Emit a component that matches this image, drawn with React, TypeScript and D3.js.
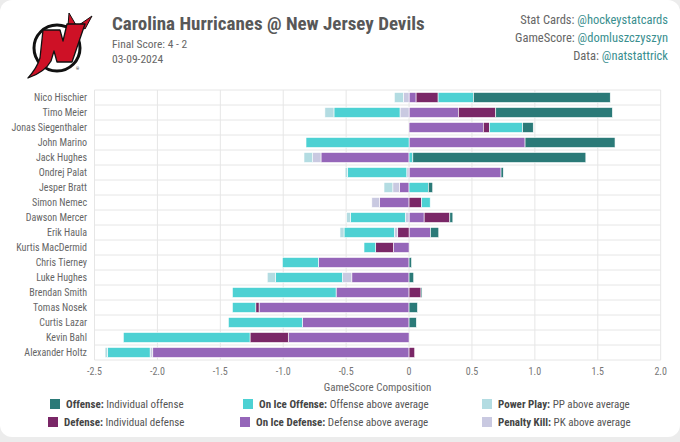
import React from 'react';
import * as d3 from 'd3';

const players = [
  "Nico Hischier", "Timo Meier", "Jonas Siegenthaler", "John Marino", "Jack Hughes",
  "Ondrej Palat", "Jesper Bratt", "Simon Nemec", "Dawson Mercer", "Erik Haula",
  "Kurtis MacDermid", "Chris Tierney", "Luke Hughes", "Brendan Smith", "Tomas Nosek",
  "Curtis Lazar", "Kevin Bahl", "Alexander Holtz",
];
const onIceDefense = [0.056, 0.392, 0.59, 0.922, -0.70, 0.731, -0.077, -0.236, 0.12, 0.17, -0.125, -0.721, -0.455, -0.58, -1.192, -0.848, -0.96, -2.037];
const defense = [0.175, 0.297, 0.048, 0, 0, 0, 0, 0.10, 0.204, -0.09, -0.14, 0, 0, 0.095, -0.026, 0, -0.304, 0.045];
const penaltyKill = [-0.045, -0.072, 0, 0, -0.066, -0.018, -0.052, -0.06, -0.03, -0.027, 0, 0, -0.075, 0, 0, 0, 0, -0.021];
const onIceOffense = [0.281, -0.525, 0.265, -0.819, 0.03, -0.472, 0.153, 0.068, -0.437, -0.40, -0.093, -0.286, -0.53, -0.824, -0.186, -0.588, -1.007, -0.34];
const powerPlay = [-0.072, -0.072, 0, 0, -0.069, -0.018, -0.07, 0, -0.03, -0.032, 0, 0, -0.067, 0, 0, 0, 0, -0.018];
const offense = [1.087, 0.927, 0.084, 0.715, 1.375, 0.018, 0.035, 0, 0.024, 0.066, 0, 0.02, 0.037, 0.008, 0.067, 0.058, 0, 0];

const xTicks = [-2.5, -2.0, -1.5, -1.0, -0.5, 0, 0.5, 1.0, 1.5, 2.0];

const seriesKeys = ["onIceDef", "def", "pk", "onIceOff", "pp", "off"];
const seriesColors: Record<string, string> = {
  off: "#2b7a78",
  onIceOff: "#4dd1d3",
  pp: "#b3dce2",
  def: "#7a2767",
  onIceDef: "#9566b9",
  pk: "#c9c9e1",
};

const legendItems = [
  { key: "off", label: "Offense:", desc: "Individual offense", x: 50, y: 404 },
  { key: "onIceOff", label: "On Ice Offense:", desc: "Offense above average", x: 243, y: 404 },
  { key: "pp", label: "Power Play:", desc: "PP above average", x: 482, y: 404 },
  { key: "def", label: "Defense:", desc: "Individual defense", x: 48, y: 422 },
  { key: "onIceDef", label: "On Ice Defense:", desc: "Defense above average", x: 240, y: 422 },
  { key: "pk", label: "Penalty Kill:", desc: "PK above average", x: 482, y: 422 },
];

const FONT = "'Liberation Sans Narrow', 'Roboto Condensed', 'Arial Narrow', Roboto, sans-serif";

export default function App() {
  const W = 680, H = 442;
  const left = 94.5, right = 660.7, top = 90, bottom = 360;

  const rows = players.map((p, i) => ({
    player: p,
    onIceDef: onIceDefense[i],
    def: defense[i],
    pk: penaltyKill[i],
    onIceOff: onIceOffense[i],
    pp: powerPlay[i],
    off: offense[i],
  }));

  const x = d3.scaleLinear().domain([-2.5, 2.0]).range([left, right]);
  const y = d3.scaleBand().domain(players).range([top, bottom]).paddingInner(0.33).paddingOuter(0.165);
  const band = d3.scaleBand().domain(players).range([top, bottom]);

  const stacked = d3.stack<any>().keys(seriesKeys).offset(d3.stackOffsetDiverging)(rows);

  const fmt = (d: number) => (d === 0 ? "0" : d.toFixed(1));

  return (
    <svg width={W} height={H} style={{ position: 'absolute', left: 0, top: 0 }} fontFamily={FONT}>
      <rect x={0} y={0} width={W} height={H} fill="#ececec" />
      <rect x={0} y={0} width={W} height={437} rx={12} fill="#ffffff" />

      {/* Logo */}
      <g>
        <circle cx={57} cy={48} r={23} fill="#ffffff" stroke="#111" strokeWidth={3} />
        <path d="M 68 26 L 69 13 L 76 25 Z" fill="#ce1126" stroke="#111" strokeWidth={1} strokeLinejoin="round" />
        <path d="M 79 25 L 92 16 L 85 29 Z" fill="#ce1126" stroke="#111" strokeWidth={1} strokeLinejoin="round" />
        <path d="M 43 30 L 60 30 L 63 41 L 67 24 L 85 24 L 72 62 L 57 62 L 54 51 L 51 61 Q 45 72 28 78 Q 37 68 40 58 Z"
          fill="#ce1126" stroke="#111" strokeWidth={1.3} strokeLinejoin="round" />
        <text x={76} y={70} fontSize={4} fill="#111">®</text>
      </g>

      {/* Header */}
      <text x={112} y={30} fontSize={19} fontWeight="bold" fill="#585858">Carolina Hurricanes @ New Jersey Devils</text>
      <text x={112} y={48} fontSize={11.5} fill="#666">Final Score: 4 - 2</text>
      <text x={112} y={63} fontSize={11.5} fill="#666">03-09-2024</text>

      <text x={668} y={24} fontSize={12.5} textAnchor="end" fill="#666">Stat Cards: <tspan fill="#3a8f8f">@hockeystatcards</tspan></text>
      <text x={668} y={42} fontSize={12.5} textAnchor="end" fill="#666">GameScore: <tspan fill="#3a8f8f">@domluszczyszyn</tspan></text>
      <text x={668} y={60} fontSize={12.5} textAnchor="end" fill="#666">Data: <tspan fill="#3a8f8f">@natstattrick</tspan></text>

      {/* Grid */}
      <g stroke="#e6e6e6" strokeWidth={1}>
        {xTicks.map((t) => (
          <line key={t} x1={x(t)} x2={x(t)} y1={top} y2={bottom} />
        ))}
        {players.map((p) => (
          <line key={p} x1={left} x2={right} y1={band(p)!} y2={band(p)!} />
        ))}
        <line x1={left} x2={right} y1={bottom} y2={bottom} />
      </g>

      {/* Bars */}
      {stacked.map((s) => (
        <g key={s.key} fill={seriesColors[s.key]}>
          {s.map((d, i) => {
            const w = Math.abs(x(d[1]) - x(d[0]));
            if (w < 0.01) return null;
            return (
              <rect key={i} x={Math.min(x(d[0]), x(d[1]))} y={y(players[i])!} width={w} height={y.bandwidth()}
                stroke="#ffffff" strokeWidth={0.6} />
            );
          })}
        </g>
      ))}

      {/* Y labels */}
      {players.map((p) => (
        <text key={p} x={87} y={band(p)! + band.bandwidth() / 2} dy="0.35em" textAnchor="end" fontSize={10} fill="#666">{p}</text>
      ))}

      {/* X tick labels */}
      {xTicks.map((t) => (
        <text key={t} x={x(t)} y={375} textAnchor="middle" fontSize={10} fill="#777">{fmt(t)}</text>
      ))}
      <text x={(left + right) / 2} y={391} textAnchor="middle" fontSize={11} fill="#666">GameScore Composition</text>

      {/* Legend */}
      {legendItems.map((l) => (
        <g key={l.key}>
          <rect x={l.x} y={l.y - 5} width={10} height={10} fill={seriesColors[l.key]} />
          <text x={l.x + 16} y={l.y} dy="0.35em" fontSize={11} fill="#555">
            <tspan fontWeight="bold" fill="#444">{l.label}</tspan> {l.desc}
          </text>
        </g>
      ))}
    </svg>
  );
}
